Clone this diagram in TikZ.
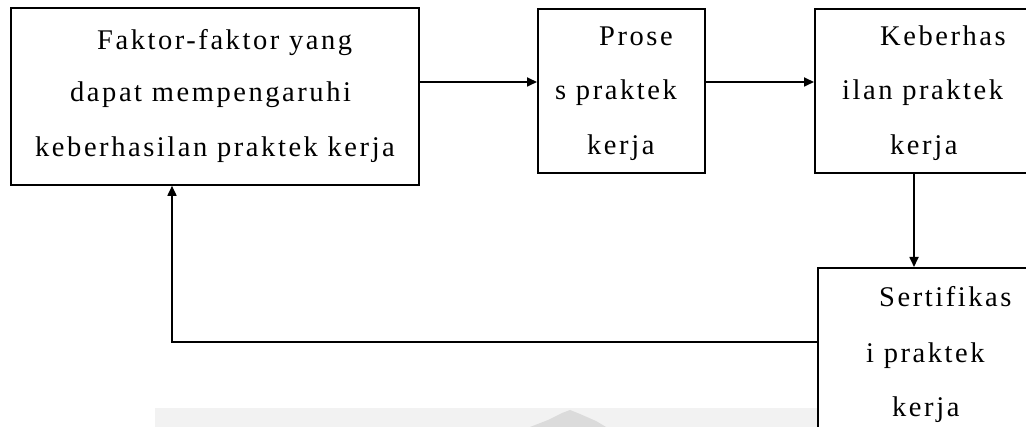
\documentclass[tikz,border=0pt]{standalone}
\usepackage{fontspec}
\setmainfont{Liberation Serif}
\newfontfamily\boxfont[LetterSpace=9]{Liberation Serif}
\usetikzlibrary{arrows.meta,calc}
\begin{document}
\begin{tikzpicture}[x=1pt,y=-1pt,
  box/.style={draw,line width=1.8pt,rectangle,inner sep=0pt,anchor=north west},
  ln/.style={anchor=base west,inner sep=0pt,font=\boxfont\fontsize{28.5}{32}\selectfont},
  arr/.style={line width=1.7pt,-{Triangle[length=10pt,width=9pt]}},
  wm/.style={fill=black!5,draw=none}]
\useasboundingbox (0,0) rectangle (1026,427);
\clip (0,0) rectangle (1026,427);
% faint watermark at the bottom
\fill[wm] (155,408) rectangle (817,427);
\fill[black!14] (530,427) -- (548,420) -- (562,413) -- (570,410) -- (580,414) -- (596,421) -- (606,427) -- cycle;
% boxes
\node[box,minimum width=408pt,minimum height=177pt] (b1) at (10,7) {};
\node[box,minimum width=167pt,minimum height=164pt] (b2) at (537,8) {};
\node[box,minimum width=216pt,minimum height=164pt] (b3) at (814,8) {};
\node[box,minimum width=213pt,minimum height=180pt] (b4) at (817,267) {};
% text lines
\node[ln] (t1a) at (97,50) {Faktor-faktor yang};
\node[ln] (t1b) at (70,102) {dapat mempengaruhi};
\node[ln] (t1c) at (35,157) {keberhasilan praktek kerja};
\node[ln] (t2a) at (599,46) {Prose};
\node[ln] (t2b) at (555,100) {s praktek};
\node[ln] (t2c) at (587,155) {kerja};
\node[ln] (t3a) at (880,46) {Keberhas};
\node[ln] (t3b) at (842,100) {ilan praktek};
\node[ln] (t3c) at (890,155) {kerja};
\node[ln] (t4a) at (879,307) {Sertifikas};
\node[ln] (t4b) at (866,363) {i praktek};
\node[ln] (t4c) at (892,417) {kerja};
% connectors
\coordinate (fb) at (172,342);
\draw[arr] (b1.east |- 0,82) -- (b2.west |- 0,82);
\draw[arr] (b2.east |- 0,82) -- (b3.west |- 0,82);
\draw[arr] (b3.south -| 914,0) -- (b4.north -| 914,0);
\draw[arr] (b4.west |- fb) -- (fb) -- (b1.south -| fb);
\end{tikzpicture}
\end{document}
